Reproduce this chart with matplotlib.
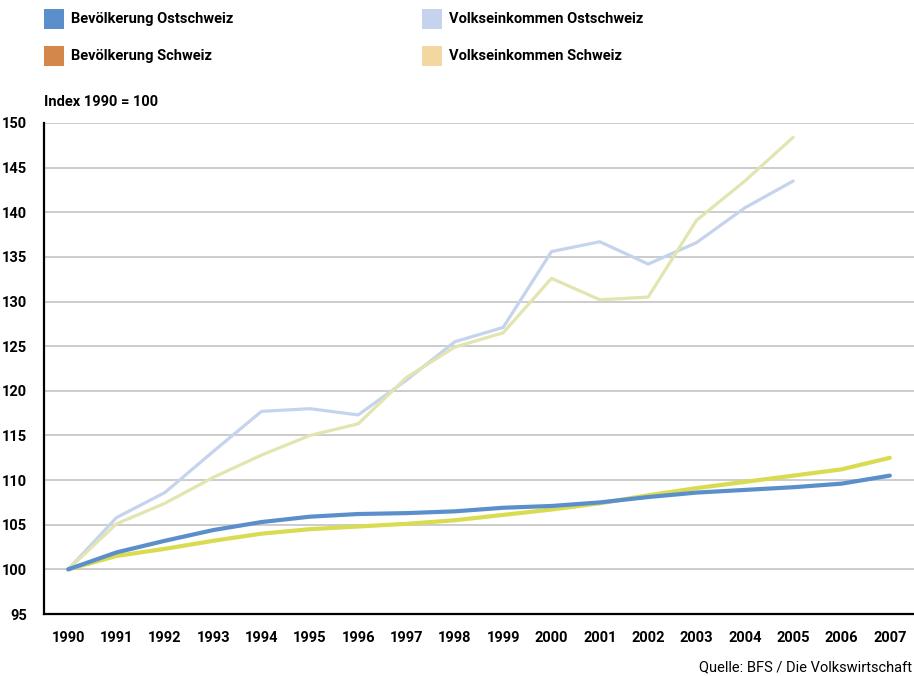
import matplotlib.pyplot as plt
from matplotlib.patches import Rectangle

plt.rcParams['font.family'] = ['Liberation Sans Narrow', 'Roboto', 'DejaVu Sans']

years = [str(y) for y in range(1990, 2008)]

# Index 1990 = 100
bev_ost = [100, 101.9, 103.2, 104.4, 105.3, 105.9, 106.2, 106.3, 106.5, 106.9,
           107.1, 107.5, 108.1, 108.6, 108.9, 109.2, 109.6, 110.5]
bev_ch = [100, 101.5, 102.3, 103.2, 104.0, 104.5, 104.8, 105.1, 105.5, 106.1,
          106.7, 107.4, 108.3, 109.1, 109.8, 110.5, 111.2, 112.5]
vek_ost = [100, 105.8, 108.6, 113.2, 117.7, 118.0, 117.3, 121.2, 125.5, 127.1,
           135.6, 136.7, 134.2, 136.6, 140.5, 143.5]
vek_ch = [100, 105.1, 107.4, 110.3, 112.8, 115.0, 116.3, 121.5, 124.9, 126.5,
          132.6, 130.2, 130.5, 139.1, 143.5, 148.4]

legend_labels = ['Bevölkerung Ostschweiz', 'Bevölkerung Schweiz',
                 'Volkseinkommen Ostschweiz', 'Volkseinkommen Schweiz']
legend_colors = ['#5b8fcc', '#d4874a', '#c5d4ec', '#f2d8a0']

W, H = 914, 676
fig = plt.figure(figsize=(W / 100, H / 100), dpi=100)
ax = fig.add_axes([44 / W, 1 - 614 / H, 1 - 44 / W, (614 - 123) / H])

x = list(range(len(years)))
ax.plot(x[:len(vek_ost)], vek_ost, color='#c5d4ec', lw=2.3, solid_capstyle='round', zorder=3)
ax.plot(x[:len(vek_ch)], vek_ch, color='#e2e5b0', lw=2.3, solid_capstyle='round', zorder=3)
ax.plot(x, bev_ch, color='#d9dc50', lw=3.0, solid_capstyle='round', zorder=4)
ax.plot(x, bev_ost, color='#5b8fcc', lw=3.0, solid_capstyle='round', zorder=5)

ax.set_xlim(-0.5, len(years) - 0.5)
ax.set_ylim(95, 150)
ax.set_xticks(x)
ax.set_xticklabels(years)
ax.set_yticks(range(95, 151, 5))
ax.tick_params(length=0, labelsize=10.5, pad=12)
ax.tick_params(axis='y', pad=12)
for lab in ax.get_xticklabels() + ax.get_yticklabels():
    lab.set_fontweight('bold')

for v in range(100, 151, 5):
    ax.axhline(v, color='#c4c4c4', lw=1.2, zorder=1)

for s in ['top', 'right']:
    ax.spines[s].set_visible(False)
for s in ['left', 'bottom']:
    ax.spines[s].set_linewidth(1.6)
    ax.spines[s].set_color('black')

# legend, two columns
for i, (lab, col) in enumerate(zip(legend_labels, legend_colors)):
    cx = 44 if i < 2 else 422
    cy = 19 if i % 2 == 0 else 56
    fig.add_artist(Rectangle((cx / W, 1 - (cy + 10) / H), 20 / W, 20 / H,
                             transform=fig.transFigure, color=col, lw=0))
    fig.text((cx + 27) / W, 1 - cy / H, lab, fontsize=10.5, fontweight='bold',
             va='center', ha='left')

fig.text(44 / W, 1 - 102 / H, 'Index 1990 = 100', fontsize=10.5,
         fontweight='bold', va='center', ha='left')
fig.text(912 / W, 1 - 667 / H, 'Quelle: BFS / Die Volkswirtschaft', fontsize=10.5,
         va='center', ha='right')

fig.savefig('out.png', dpi=100)
